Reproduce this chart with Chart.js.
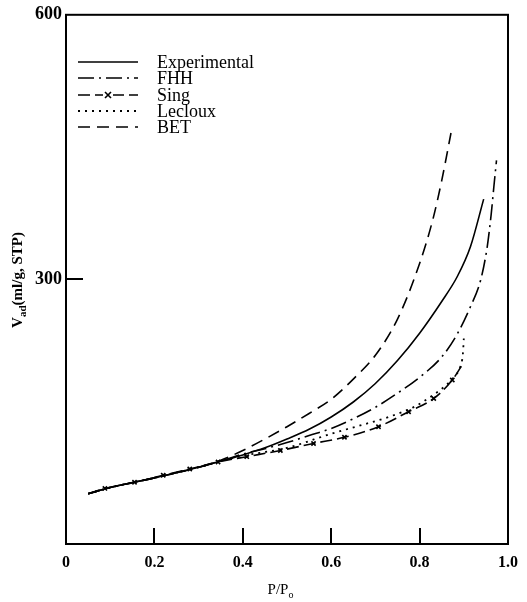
<!DOCTYPE html>
<html>
<head>
<meta charset="utf-8">
<script src="https://cdn.jsdelivr.net/npm/chart.js@4"></script>
<style>
html,body{margin:0;padding:0;background:#fff;}
#wrap{width:527px;height:602px;position:relative;}
</style>
</head>
<body>
<div id="wrap"><canvas id="c" width="527" height="602"></canvas></div>
<script>
// ---- data ----
const xTickLabels = ["0", "0.2", "0.4", "0.6", "0.8", "1.0"];
const yTickLabels = ["", "300", "600"];
const seriesNames = ["Experimental", "FHH", "Sing", "Lecloux", "BET"];

const expX = [0.05, 0.10, 0.20, 0.30, 0.35, 0.40, 0.45, 0.50, 0.55, 0.60, 0.65, 0.70, 0.75, 0.80, 0.85, 0.885, 0.915, 0.945];
const expY = [57, 64, 75, 87, 94, 101, 109, 119, 130, 144, 161, 182, 208, 239, 275, 303, 337, 391];

const fhhX = [0.05, 0.10, 0.20, 0.30, 0.35, 0.40, 0.45, 0.50, 0.55, 0.60, 0.65, 0.70, 0.75, 0.80, 0.85, 0.885, 0.915, 0.938, 0.953, 0.962, 0.968, 0.974];
const fhhY = [57, 64, 75, 87, 94, 102, 108, 115, 123, 131, 142, 155, 171, 189, 212, 238, 269, 299, 337, 374, 405, 435];

const singX = [0.05, 0.088, 0.155, 0.22, 0.28, 0.344, 0.409, 0.485, 0.56, 0.63, 0.707, 0.775, 0.832, 0.874, 0.90];
const singY = [57, 63, 70, 78, 85, 93, 99, 106, 114, 121, 133, 150, 165, 186, 206];
const singMarker = [0, 1, 1, 1, 1, 1, 1, 1, 1, 1, 1, 1, 1, 1, 0];

const lecX = [0.05, 0.10, 0.20, 0.30, 0.35, 0.40, 0.50, 0.60, 0.67, 0.73, 0.79, 0.825, 0.855, 0.877, 0.892, 0.898, 0.90];
const lecY = [57, 64, 75, 87, 94, 100, 109, 125, 135, 144, 156, 167, 178, 189, 201, 216, 233];

const betX = [0.05, 0.10, 0.20, 0.30, 0.35, 0.40, 0.45, 0.50, 0.55, 0.60, 0.65, 0.70, 0.75, 0.80, 0.83, 0.85, 0.871];
const betY = [57, 64, 75, 87, 95, 106, 119, 133, 148, 164, 187, 214, 255, 318, 368, 412, 466];

const xTickValues = [0, 0.2, 0.4, 0.6, 0.8, 1.0];
const yTickValues = [0, 300, 600];

function pts(xs, ys) { return xs.map((x, i) => ({x: x, y: ys[i]})); }

const styles = [
  {dash: []},
  {dash: [16, 5, 2, 5]},
  {dash: [12, 5]},
  {dash: [2, 5]},
  {dash: [12, 7]}
];

const datasets = [
  {label: seriesNames[0], data: pts(expX, expY), borderDash: styles[0].dash},
  {label: seriesNames[1], data: pts(fhhX, fhhY), borderDash: styles[1].dash},
  {label: seriesNames[2], data: pts(singX, singY), borderDash: styles[2].dash,
   pointRadius: singMarker.map(m => m ? 3 : 0), pointStyle: 'crossRot', pointBorderWidth: 1.6},
  {label: seriesNames[3], data: pts(lecX, lecY), borderDash: styles[3].dash, borderWidth: 1.8},
  {label: seriesNames[4], data: pts(betX, betY), borderDash: styles[4].dash}
].map(d => Object.assign({
  borderColor: '#000', backgroundColor: '#000', borderWidth: 1.6,
  pointRadius: 0, fill: false, cubicInterpolationMode: 'monotone'
}, d));

const SERIF = '"Liberation Serif", "DejaVu Serif", serif';

const decor = {
  id: 'decor',
  afterDraw(chart) {
    const ctx = chart.ctx, a = chart.chartArea;
    const xs = chart.scales.x, ys = chart.scales.y;
    ctx.save();
    ctx.strokeStyle = '#000';
    ctx.setLineDash([]);
    // frame
    ctx.lineWidth = 2;
    ctx.strokeRect(a.left, a.top, a.right - a.left, a.bottom - a.top);
    // inward ticks
    ctx.lineWidth = 2;
    [0.2, 0.4, 0.6, 0.8].forEach(v => {
      const px = Math.round(xs.getPixelForValue(v));
      ctx.beginPath(); ctx.moveTo(px, a.bottom); ctx.lineTo(px, a.bottom - 16); ctx.stroke();
    });
    const py = Math.round(ys.getPixelForValue(300));
    ctx.beginPath(); ctx.moveTo(a.left, py); ctx.lineTo(a.left + 17, py); ctx.stroke();

    // legend
    const rows = [62, 78, 95, 111, 127];
    const lx0 = 78, lx1 = 138, tx = 157;
    ctx.font = '18px ' + SERIF;
    ctx.fillStyle = '#000';
    ctx.textBaseline = 'middle';
    ctx.textAlign = 'left';
    chart.data.datasets.forEach((d, i) => {
      const y = rows[i];
      ctx.lineWidth = d.borderWidth;
      ctx.setLineDash(d.borderDash);
      ctx.beginPath(); ctx.moveTo(lx0, y); ctx.lineTo(lx1, y); ctx.stroke();
      ctx.setLineDash([]);
      if (i === 2) {
        const cx = (lx0 + lx1) / 2;
        ctx.fillStyle = '#fff';
        ctx.fillRect(cx - 5, y - 3, 10, 6);
        ctx.fillStyle = '#000';
        ctx.lineWidth = 1.6;
        ctx.beginPath();
        ctx.moveTo(cx - 3, y - 3); ctx.lineTo(cx + 3, y + 3);
        ctx.moveTo(cx - 3, y + 3); ctx.lineTo(cx + 3, y - 3);
        ctx.stroke();
      }
      ctx.fillText(d.label, tx, y + 1);
    });

    // x title: P/Po
    ctx.font = '15px ' + SERIF;
    ctx.textBaseline = 'alphabetic';
    const main = 'P/P';
    const w = ctx.measureText(main).width;
    const cx = 278;
    ctx.fillText(main, cx - w / 2, 594);
    ctx.font = '10px ' + SERIF;
    ctx.fillText('o', cx + w / 2, 598);

    // y title: V_ad(ml/g, STP)
    ctx.save();
    ctx.translate(22, 280);
    ctx.rotate(-Math.PI / 2);
    const p1 = 'V', p3 = '(ml/g, STP)';
    ctx.font = 'bold 11px ' + SERIF;
    const wsub = ctx.measureText('ad').width;
    ctx.font = 'bold 15px ' + SERIF;
    const w1 = ctx.measureText(p1).width, w3 = ctx.measureText(p3).width;
    const total = w1 + wsub + w3;
    let x0 = -total / 2;
    ctx.fillText(p1, x0, 0);
    ctx.font = 'bold 11px ' + SERIF;
    ctx.fillText('ad', x0 + w1, 4);
    ctx.font = 'bold 15px ' + SERIF;
    ctx.fillText(p3, x0 + w1 + wsub, 0);
    ctx.restore();

    ctx.restore();
  }
};

new Chart(document.getElementById('c'), {
  type: 'line',
  data: {datasets: datasets},
  options: {
    responsive: false,
    animation: false,
    devicePixelRatio: 1,
    layout: {padding: {top: 14, right: 18, left: 0, bottom: 0}},
    plugins: {legend: {display: false}, tooltip: {enabled: false}},
    scales: {
      x: {
        type: 'linear', min: 0, max: 1,
        afterBuildTicks(s) { s.ticks = xTickValues.map(v => ({value: v})); },
        afterFit(s) { s.height = 58; },
        grid: {display: false, drawTicks: false},
        border: {display: false},
        ticks: {
          padding: 9, color: '#000',
          font: {family: SERIF, size: 16, weight: 'bold'},
          callback: (v, i) => xTickLabels[i]
        }
      },
      y: {
        type: 'linear', min: 0, max: 600,
        afterBuildTicks(s) { s.ticks = yTickValues.map(v => ({value: v})); },
        afterFit(s) { s.width = 66; },
        grid: {display: false, drawTicks: false},
        border: {display: false},
        ticks: {
          padding: 4, color: '#000',
          font: {family: SERIF, size: 18, weight: 'bold'},
          callback: (v, i) => yTickLabels[i]
        }
      }
    }
  },
  plugins: [decor]
});
</script>
</body>
</html>
